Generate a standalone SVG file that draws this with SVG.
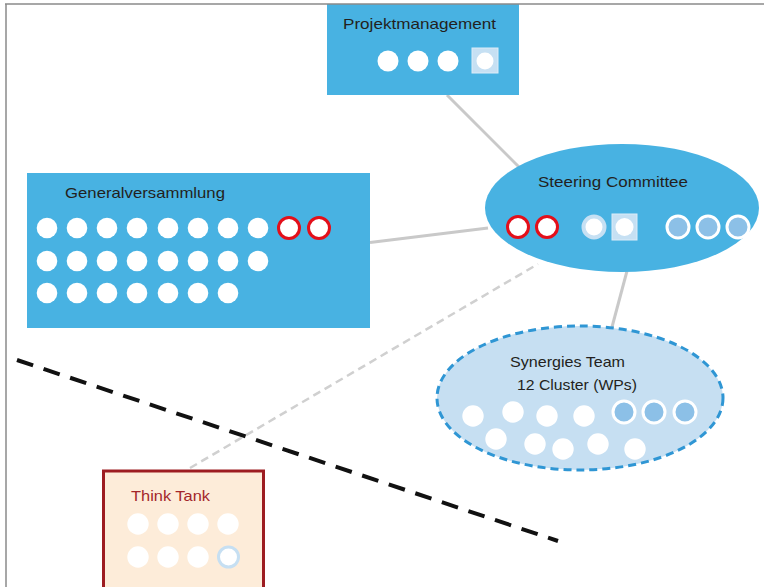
<svg xmlns="http://www.w3.org/2000/svg" width="764" height="587" viewBox="0 0 764 587">
<style>
.lbl{font-family:"Liberation Sans",Arial,sans-serif;font-size:15px;fill:#231f20}
.tt{font-family:"Liberation Sans",Arial,sans-serif;font-size:15px;fill:#a3262a}
.blue{fill:#48b2e2}
.w{fill:#ffffff}
.red{fill:#ffffff;stroke:#e30f1a;stroke-width:3}
.lb{fill:#8cc0e7;stroke:#ffffff;stroke-width:3}
.ring{fill:#ffffff;stroke:#c6e0f3;stroke-width:4}
.sq{fill:#c6e0f3;stroke:#dcecf8;stroke-width:1}
.conn{stroke:#c9c9c9;stroke-width:3;fill:none}
</style>
<rect width="764" height="587" fill="#ffffff"/>
<g id="connectors">
<line class="conn" x1="447" y1="95" x2="520" y2="168"/>
<line class="conn" x1="370" y1="242.5" x2="488" y2="228"/>
<line class="conn" x1="627" y1="271" x2="612" y2="327"/>
<line x1="190" y1="468" x2="538" y2="264" stroke="#d0d0d0" stroke-width="2.5" stroke-dasharray="8 5"/>
</g>
<g id="boundary">
<line x1="17" y1="360" x2="558" y2="541" stroke="#111" stroke-width="4" stroke-dasharray="17 11"/>
</g>
<g id="projektmanagement">
<rect class="blue" x="327" y="4" width="192" height="91"/>
<text class="lbl" x="343" y="29" textLength="153" lengthAdjust="spacingAndGlyphs">Projektmanagement</text>
<circle class="w" cx="388" cy="61" r="10.5"/>
<circle class="w" cx="418" cy="61" r="10.5"/>
<circle class="w" cx="448" cy="61" r="10.5"/>
<rect class="sq" x="472" y="48" width="26" height="25"/>
<circle class="w" cx="485" cy="61" r="8.5"/>
</g>
<g id="generalversammlung">
<rect class="blue" x="27" y="173" width="343" height="155"/>
<text class="lbl" x="65" y="198" textLength="160" lengthAdjust="spacingAndGlyphs">Generalversammlung</text>
<circle class="w" cx="47" cy="228" r="10.3"/>
<circle class="w" cx="77" cy="228" r="10.3"/>
<circle class="w" cx="107" cy="228" r="10.3"/>
<circle class="w" cx="137" cy="228" r="10.3"/>
<circle class="w" cx="168" cy="228" r="10.3"/>
<circle class="w" cx="198" cy="228" r="10.3"/>
<circle class="w" cx="228" cy="228" r="10.3"/>
<circle class="w" cx="258" cy="228" r="10.3"/>
<circle class="red" cx="289" cy="228" r="10.5"/>
<circle class="red" cx="319" cy="228" r="10.5"/>
<circle class="w" cx="47" cy="261" r="10.3"/>
<circle class="w" cx="77" cy="261" r="10.3"/>
<circle class="w" cx="107" cy="261" r="10.3"/>
<circle class="w" cx="137" cy="261" r="10.3"/>
<circle class="w" cx="168" cy="261" r="10.3"/>
<circle class="w" cx="198" cy="261" r="10.3"/>
<circle class="w" cx="228" cy="261" r="10.3"/>
<circle class="w" cx="258" cy="261" r="10.3"/>
<circle class="w" cx="47" cy="293" r="10.3"/>
<circle class="w" cx="77" cy="293" r="10.3"/>
<circle class="w" cx="107" cy="293" r="10.3"/>
<circle class="w" cx="137" cy="293" r="10.3"/>
<circle class="w" cx="168" cy="293" r="10.3"/>
<circle class="w" cx="198" cy="293" r="10.3"/>
<circle class="w" cx="228" cy="293" r="10.3"/>
</g>
<g id="steering-committee">
<ellipse class="blue" cx="622" cy="208" rx="137" ry="64"/>
<text class="lbl" x="538" y="187" textLength="150" lengthAdjust="spacingAndGlyphs">Steering Committee</text>
<circle class="red" cx="518" cy="227" r="10.5"/>
<circle class="red" cx="547" cy="227" r="10.5"/>
<circle class="ring" cx="594" cy="227" r="10.5"/>
<rect class="sq" x="612" y="214" width="25" height="26"/>
<circle class="w" cx="624.5" cy="227" r="9"/>
<circle class="lb" cx="678" cy="227" r="11"/>
<circle class="lb" cx="708" cy="227" r="11"/>
<circle class="lb" cx="738" cy="227" r="11"/>
</g>
<g id="synergies-team">
<ellipse cx="580" cy="398" rx="143" ry="72" fill="#c6dff2" stroke="#2f96d4" stroke-width="3" stroke-dasharray="8 5"/>
<text class="lbl" x="510" y="367" textLength="115" lengthAdjust="spacingAndGlyphs">Synergies Team</text>
<text class="lbl" x="517" y="390" textLength="120" lengthAdjust="spacingAndGlyphs">12 Cluster (WPs)</text>
<circle class="w" cx="473" cy="416" r="10.7"/>
<circle class="w" cx="513" cy="412" r="10.7"/>
<circle class="w" cx="547" cy="416" r="10.7"/>
<circle class="w" cx="584" cy="416" r="10.7"/>
<circle class="lb" cx="624" cy="412" r="11"/>
<circle class="lb" cx="654" cy="412" r="11"/>
<circle class="lb" cx="685" cy="412" r="11"/>
<circle class="w" cx="496" cy="439" r="10.7"/>
<circle class="w" cx="535" cy="444" r="10.7"/>
<circle class="w" cx="563" cy="449" r="10.7"/>
<circle class="w" cx="598" cy="444" r="10.7"/>
<circle class="w" cx="635" cy="449" r="10.7"/>
</g>
<g id="think-tank">
<rect x="103.5" y="471" width="160" height="120" fill="#fdecd9" stroke="#9d1c21" stroke-width="3"/>
<text class="tt" x="131" y="501" textLength="79" lengthAdjust="spacingAndGlyphs">Think Tank</text>
<circle class="w" cx="138" cy="524" r="10.7"/>
<circle class="w" cx="168" cy="524" r="10.7"/>
<circle class="w" cx="198" cy="524" r="10.7"/>
<circle class="w" cx="228" cy="524" r="10.7"/>
<circle class="w" cx="138" cy="557" r="10.7"/>
<circle class="w" cx="168" cy="557" r="10.7"/>
<circle class="w" cx="198" cy="557" r="10.7"/>
<circle cx="228.5" cy="557" r="10" fill="#ffffff" stroke="#c6dff2" stroke-width="3"/>
</g>
<g id="frame">
<line x1="5" y1="4" x2="764" y2="4" stroke="#8a8a8a" stroke-width="1.5"/>
<line x1="6" y1="4" x2="6" y2="587" stroke="#8a8a8a" stroke-width="1.5"/>
</g>
</svg>
